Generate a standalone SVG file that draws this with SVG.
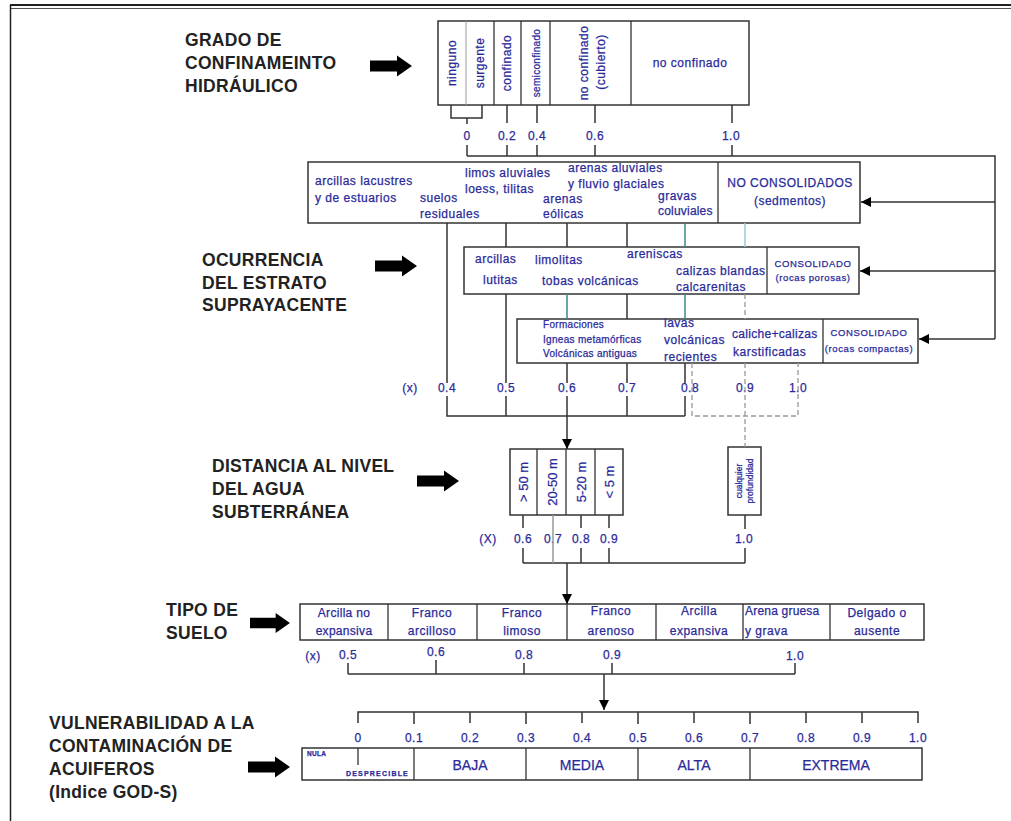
<svg xmlns="http://www.w3.org/2000/svg" width="1011" height="821" viewBox="0 0 1011 821">
<defs>
<style>
.box{fill:#fff;stroke:#333;stroke-width:1.5}
.dv{stroke:#333;stroke-width:1.3}
.dvg{stroke:#999;stroke-width:1}
.t{font-family:"Liberation Sans",Arial,sans-serif;fill:#2a2a9a;stroke:#2a2a9a;stroke-width:0.25px;font-size:12px;letter-spacing:0.5px}
.s{font-size:10px;letter-spacing:0.3px}
.c{font-size:9.5px;letter-spacing:0.6px}
.m{text-anchor:middle}
.ttl{font-family:"Liberation Sans",Arial,sans-serif;font-weight:bold;font-size:17.5px;fill:#222;letter-spacing:0.3px}
.ln{stroke:#333;stroke-width:1.5;fill:none}
.tl{stroke:#3b8b8b;stroke-width:1.5;fill:none}
.ds{stroke:#999;stroke-width:1.3;fill:none;stroke-dasharray:5 3}
.big{fill:#000}
</style>
<marker id="ah" viewBox="0 0 10 10" refX="10" refY="5" markerWidth="11" markerHeight="10" markerUnits="userSpaceOnUse" orient="auto"><path d="M0,0 L10,5 L0,10 Z" fill="#000"/></marker>
<path id="bigArrow" d="M0,-5.5 H27 V-10.5 L42,0 L27,10.5 V5.5 H0 Z"/>
</defs>
<rect width="1011" height="821" fill="#fff"/>
<g id="frame">
<line x1="10" y1="5" x2="1011" y2="5" stroke="#222" stroke-width="2"/>
<line x1="10" y1="8.5" x2="1011" y2="8.5" stroke="#555" stroke-width="1"/>
<line x1="10.5" y1="5" x2="10.5" y2="821" stroke="#222" stroke-width="1.5"/>
</g>

<g id="title-grado">
<text class="ttl" x="185" y="46">GRADO DE</text>
<text class="ttl" x="185" y="69">CONFINAMEINTO</text>
<text class="ttl" x="185" y="92">HIDRÁULICO</text>
<use href="#bigArrow" class="big" x="370" y="66"/>
</g>
<g id="title-ocurrencia">
<text class="ttl" x="202" y="266">OCURRENCIA</text>
<text class="ttl" x="202" y="289">DEL ESTRATO</text>
<text class="ttl" x="202" y="311">SUPRAYACENTE</text>
<use href="#bigArrow" class="big" x="375" y="266"/>
</g>
<g id="title-distancia">
<text class="ttl" x="212" y="472">DISTANCIA AL NIVEL</text>
<text class="ttl" x="212" y="495">DEL AGUA</text>
<text class="ttl" x="212" y="518">SUBTERRÁNEA</text>
<use href="#bigArrow" class="big" x="417" y="481"/>
</g>
<g id="title-suelo">
<text class="ttl" x="166" y="616">TIPO DE</text>
<text class="ttl" x="166" y="639">SUELO</text>
<use href="#bigArrow" class="big" x="250" y="623" transform="translate(250,623) scale(0.95) translate(-250,-623)"/>
</g>
<g id="title-vulnerabilidad">
<text class="ttl" x="49" y="729">VULNERABILIDAD A LA</text>
<text class="ttl" x="49" y="752">CONTAMINACIÓN DE</text>
<text class="ttl" x="49" y="775">ACUIFEROS</text>
<text class="ttl" x="49" y="798">(Indice GOD-S)</text>
<use href="#bigArrow" class="big" x="248" y="767"/>
</g>

<g id="node-confinamiento">
<rect class="box" x="438" y="21" width="311" height="84"/>
<line class="dvg" x1="466" y1="21" x2="466" y2="105"/>
<line class="dv" x1="494" y1="21" x2="494" y2="105"/>
<line class="dv" x1="521" y1="21" x2="521" y2="105"/>
<line class="dv" x1="550" y1="21" x2="550" y2="105"/>
<line class="dv" x1="631" y1="21" x2="631" y2="105"/>
<text class="t m" transform="translate(452,63) rotate(-90)" dy="0.35em">ninguno</text>
<text class="t m" transform="translate(480,63) rotate(-90)" dy="0.35em">surgente</text>
<text class="t m" transform="translate(507,63) rotate(-90)" dy="0.35em">confinado</text>
<text class="t s m" transform="translate(536,63) rotate(-90)" dy="0.35em">semiconfinado</text>
<text class="t m" transform="translate(584,63) rotate(-90)" dy="0.35em">no confinado</text>
<text class="t m" transform="translate(601,62) rotate(-90)" dy="0.35em">(cubierto)</text>
<text class="t m" x="690" y="67">no confinado</text>
</g>

<g id="node-sedimentos">
<rect class="box" x="308" y="162" width="552" height="61"/>
<line class="dv" x1="718" y1="162" x2="718" y2="223"/>
<text class="t" x="315" y="185">arcillas lacustres</text>
<text class="t" x="315" y="202">y de estuarios</text>
<text class="t" x="420" y="202">suelos</text>
<text class="t" x="420" y="218">residuales</text>
<text class="t" x="465" y="177">limos aluviales</text>
<text class="t" x="465" y="193">loess, tilitas</text>
<text class="t" x="568" y="172">arenas aluviales</text>
<text class="t" x="568" y="188">y  fluvio glaciales</text>
<text class="t" x="543" y="203">arenas</text>
<text class="t" x="543" y="218">eólicas</text>
<text class="t" x="658" y="200">gravas</text>
<text class="t" x="658" y="215" style="letter-spacing:0.2px">coluviales</text>
<text class="t m" x="790" y="187">NO CONSOLIDADOS</text>
<text class="t m" x="790" y="205">(sedmentos)</text>
</g>

<g id="node-porosas">
<rect class="box" x="464" y="247" width="395" height="47"/>
<line class="dv" x1="767" y1="247" x2="767" y2="294"/>
<text class="t" x="475" y="263">arcillas</text>
<text class="t" x="483" y="284">lutitas</text>
<text class="t" x="535" y="264">limolitas</text>
<text class="t" x="542" y="285">tobas volcánicas</text>
<text class="t" x="627" y="258">areniscas</text>
<text class="t" x="676" y="275">calizas blandas</text>
<text class="t" x="676" y="291">calcarenitas</text>
<text class="t c m" x="813" y="267">CONSOLIDADO</text>
<text class="t c m" x="813" y="281">(rocas porosas)</text>
</g>

<g id="node-compactas">
<rect class="box" x="517" y="319" width="401" height="44"/>
<line class="dv" x1="823" y1="319" x2="823" y2="363"/>
<text class="t s" x="543" y="328">Formaciones</text>
<text class="t s" x="543" y="343">Igneas metamórficas</text>
<text class="t s" x="543" y="357">Volcánicas antiguas</text>
<text class="t" x="664" y="327">lavas</text>
<text class="t" x="664" y="344">volcánicas</text>
<text class="t" x="664" y="361">recientes</text>
<text class="t" x="732" y="338" style="letter-spacing:0.3px">caliche+calizas</text>
<text class="t" x="733" y="356">karstificadas</text>
<text class="t c m" x="869" y="336">CONSOLIDADO</text>
<text class="t c m" x="869" y="352">(rocas compactas)</text>
</g>

<g id="node-distancia">
<rect class="box" x="510" y="449" width="113" height="66"/>
<line class="dv" x1="537" y1="449" x2="537" y2="515"/>
<line class="dv" x1="566" y1="449" x2="566" y2="515"/>
<line class="dv" x1="595" y1="449" x2="595" y2="515"/>
<text class="t m" style="font-size:13px;letter-spacing:0" transform="translate(523,482) rotate(-90)" dy="0.35em">&gt; 50 m</text>
<text class="t m" style="font-size:13px;letter-spacing:0" transform="translate(552,482) rotate(-90)" dy="0.35em">20-50 m</text>
<text class="t m" style="font-size:13px;letter-spacing:0" transform="translate(581,482) rotate(-90)" dy="0.35em">5-20 m</text>
<text class="t m" style="font-size:13px;letter-spacing:0" transform="translate(609,482) rotate(-90)" dy="0.35em">&lt; 5 m</text>
</g>
<g id="node-cualquier">
<rect class="box" x="728" y="447" width="33" height="68"/>
<text class="t m" style="font-size:8.5px;letter-spacing:0" transform="translate(739,481) rotate(-90)" dy="0.35em">cualquier</text>
<text class="t m" style="font-size:8.5px;letter-spacing:0" transform="translate(750,481) rotate(-90)" dy="0.35em">profundidad</text>
</g>

<g id="node-suelo">
<rect class="box" x="300" y="604" width="624" height="36"/>
<line class="dv" x1="388" y1="604" x2="388" y2="640"/>
<line class="dv" x1="477" y1="604" x2="477" y2="640"/>
<line class="dv" x1="567" y1="604" x2="567" y2="640"/>
<line class="dv" x1="656" y1="604" x2="656" y2="640"/>
<line class="dv" x1="743" y1="604" x2="743" y2="640"/>
<line class="dv" x1="830" y1="604" x2="830" y2="640"/>
<text class="t m" x="344" y="617" style="letter-spacing:0.3px">Arcilla no</text>
<text class="t m" x="344" y="635" style="letter-spacing:0.3px">expansiva</text>
<text class="t m" x="432" y="617">Franco</text>
<text class="t m" x="432" y="635">arcilloso</text>
<text class="t m" x="522" y="617">Franco</text>
<text class="t m" x="522" y="635">limoso</text>
<text class="t m" x="611" y="615">Franco</text>
<text class="t m" x="611" y="635">arenoso</text>
<text class="t m" x="699" y="615">Arcilla</text>
<text class="t m" x="699" y="635">expansiva</text>
<text class="t" x="745" y="615" style="letter-spacing:0.2px">Arena gruesa</text>
<text class="t" x="745" y="635">y grava</text>
<text class="t m" x="877" y="617">Delgado o</text>
<text class="t m" x="877" y="635">ausente</text>
</g>

<g id="node-vulnerabilidad">
<rect class="box" x="302" y="748" width="620" height="32"/>
<line class="dv" x1="414" y1="748" x2="414" y2="780"/>
<line class="dv" x1="526" y1="748" x2="526" y2="780"/>
<line class="dv" x1="638" y1="748" x2="638" y2="780"/>
<line class="dv" x1="750" y1="748" x2="750" y2="780"/>
<line class="dv" x1="358" y1="748" x2="358" y2="765"/>
<text class="t" x="307" y="756" style="font-size:6.5px;font-weight:bold;letter-spacing:0.3px">NULA</text>
<text class="t" x="409" y="776" text-anchor="end" style="font-size:7px;font-weight:bold;letter-spacing:1.2px">DESPRECIBLE</text>
<text class="t m" x="470" y="770" style="font-size:14px;letter-spacing:0">BAJA</text>
<text class="t m" x="582" y="770" style="font-size:14px;letter-spacing:0">MEDIA</text>
<text class="t m" x="694" y="770" style="font-size:14px;letter-spacing:0">ALTA</text>
<text class="t m" x="836" y="770" style="font-size:14px;letter-spacing:0">EXTREMA</text>
</g>

<g id="labels">
<text class="t m" x="467" y="140">0</text>
<text class="t m" x="507" y="140">0.2</text>
<text class="t m" x="537" y="140">0.4</text>
<text class="t m" x="595" y="140">0.6</text>
<text class="t m" x="731" y="140">1.0</text>
<text class="t m" x="410" y="392">(x)</text>
<text class="t m" x="447" y="392">0.4</text>
<text class="t m" x="506" y="392">0.5</text>
<text class="t m" x="567" y="392">0.6</text>
<text class="t m" x="627" y="392">0.7</text>
<text class="t m" x="690" y="392">0.8</text>
<text class="t m" x="745" y="392">0.9</text>
<text class="t m" x="798" y="392">1.0</text>
<text class="t m" x="488" y="543">(X)</text>
<text class="t m" x="523" y="543">0.6</text>
<text class="t m" x="553" y="543">0.7</text>
<text class="t m" x="581" y="543">0.8</text>
<text class="t m" x="609" y="543">0.9</text>
<text class="t m" x="744" y="543">1.0</text>
<text class="t m" x="313" y="660">(x)</text>
<text class="t m" x="348" y="659">0.5</text>
<text class="t m" x="436" y="656">0.6</text>
<text class="t m" x="524" y="659">0.8</text>
<text class="t m" x="612" y="659">0.9</text>
<text class="t m" x="795" y="660">1.0</text>
<text class="t m" x="358" y="742">0</text>
<text class="t m" x="414" y="742">0.1</text>
<text class="t m" x="470" y="742">0.2</text>
<text class="t m" x="526" y="742">0.3</text>
<text class="t m" x="582" y="742">0.4</text>
<text class="t m" x="638" y="742">0.5</text>
<text class="t m" x="694" y="742">0.6</text>
<text class="t m" x="750" y="742">0.7</text>
<text class="t m" x="806" y="742">0.8</text>
<text class="t m" x="862" y="742">0.9</text>
<text class="t m" x="918" y="742">1.0</text>
</g>

<g id="connectors">
<path class="ln" d="M451,105 V118 H482 V105 M467,118 V124 M507,105 V123 M537,105 V123 M595,105 V123 M732,105 V123"/>
<path class="ln" d="M467,145 V156 M507,145 V156 M537,145 V156 M595,145 V156 M732,145 V156 M467,156 H995 V339"/>
<path class="ln" d="M995,202 H861" marker-end="url(#ah)"/>
<path class="ln" d="M995,271 H860" marker-end="url(#ah)"/>
<path class="ln" d="M995,339 H919" marker-end="url(#ah)"/>
<path class="ln" d="M447,223 V383 M447,396 V416 H685 M506,223 V247 M506,294 V383 M506,396 V416 M567,223 V247 M627,223 V247 M627,294 V319 M627,363 V383 M627,396 V416 M567,363 V383 M685,363 V383 M685,396 V416"/>
<path class="tl" d="M685,223 V247 M685,294 V319 M567,294 V319"/>
<path class="tl" d="M745,223 V247" style="stroke:#9cc"/>
<path class="ds" d="M745,294 V319 M692,363 V416 H798 V363 M745,363 V447"/>
<path class="ln" d="M567,396 V449" marker-end="url(#ah)"/>
<path class="ln" d="M523,515 V528 M581,515 V528 M609,515 V528 M745,515 V529 M523,548 V563 M581,548 V563 M609,548 V563 M745,548 V563 M523,563 H745"/>
<path class="ln" d="M553,515 V563" style="stroke:#999"/>
<path class="ln" d="M567,563 V604" marker-end="url(#ah)"/>
<path class="ln" d="M348,663 V674 M436,660 V674 M524,663 V674 M612,663 V674 M795,663 V674 M348,674 H795"/>
<path class="ln" d="M604,674 V710" marker-end="url(#ah)"/>
<path class="ln" d="M358,723 V712 H918 V723 M414,712 V724 M470,712 V723 M526,712 V724 M582,712 V723 M638,712 V724 M694,712 V723 M750,712 V724 M806,712 V723 M862,712 V723"/>
</g>
</svg>
